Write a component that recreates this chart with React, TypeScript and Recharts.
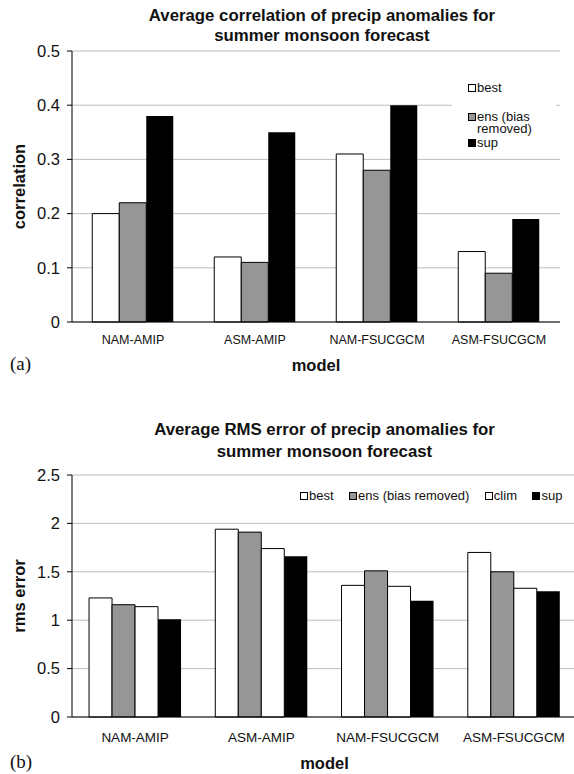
import React from "react";
import { BarChart, Bar, XAxis, YAxis, CartesianGrid, Legend } from "recharts";

// models on the x axis, same for both panels
const models = ["NAM-AMIP", "ASM-AMIP", "NAM-FSUCGCM", "ASM-FSUCGCM"];

// (a) correlation
const corrBest = [0.2, 0.12, 0.31, 0.13];
const corrEns = [0.22, 0.11, 0.28, 0.09];
const corrSup = [0.38, 0.35, 0.4, 0.19];
const corrTicks = [0, 0.1, 0.2, 0.3, 0.4, 0.5];

// (b) rms error
const rmsBest = [1.23, 1.94, 1.36, 1.7];
const rmsEns = [1.16, 1.91, 1.51, 1.5];
const rmsClim = [1.14, 1.74, 1.35, 1.33];
const rmsSup = [1.01, 1.66, 1.2, 1.3];
const rmsTicks = [0, 0.5, 1, 1.5, 2, 2.5];

// category boundaries (excel-style tick marks between groups)
const boundaryTicks = [0, 1, 2, 3, 4];

// legend order = series order
const seriesOrder = ["best", "ens", "clim", "sup"];

const corrData = models.map((m, i) => ({ model: m, best: corrBest[i], ens: corrEns[i], sup: corrSup[i] }));
const rmsData = models.map((m, i) => ({
  model: m,
  best: rmsBest[i],
  ens: rmsEns[i],
  clim: rmsClim[i],
  sup: rmsSup[i],
}));

const sans = '"Liberation Sans", Arial, sans-serif';
const ink = "#111";
const grey = "#969696";

function yTitle(text: string) {
  return (props: any) => {
    const vb = props.viewBox;
    const cx = vb.x + 19;
    const cy = vb.y + vb.height / 2;
    return (
      <text
        x={cx}
        y={cy}
        transform={`rotate(-90 ${cx} ${cy})`}
        textAnchor="middle"
        dominantBaseline="central"
        fontSize={16.5}
        fontWeight="bold"
        fontFamily={sans}
        fill={ink}
      >
        {text}
      </text>
    );
  };
}

function xTitle(text: string, dy: number) {
  return (props: any) => {
    const vb = props.viewBox;
    return (
      <text
        x={vb.x + vb.width / 2}
        y={vb.y + dy}
        textAnchor="middle"
        dominantBaseline="central"
        fontSize={16.5}
        fontWeight="bold"
        fontFamily={sans}
        fill={ink}
      >
        {text}
      </text>
    );
  };
}

function Swatch({ color }: { color: string }) {
  return (
    <span
      style={{
        display: "inline-block",
        width: 6,
        height: 6,
        border: "1px solid #000",
        background: color,
        flex: "none",
      }}
    />
  );
}

function ordered(payload: any[]) {
  return [...(payload || [])].sort(
    (a, b) => seriesOrder.indexOf(a.dataKey) - seriesOrder.indexOf(b.dataKey)
  );
}

// stacked legend of panel (a)
function stackLegend(props: any) {
  const items = ordered(props.payload);
  return (
    <div style={{ background: "#fff", width: 104, height: 96, paddingTop: 22, boxSizing: "border-box", fontFamily: sans, fontSize: 13, lineHeight: "12px", color: ink }}>
      {items.map((it: any, i: number) => (
        <div key={i} style={{ display: "flex", alignItems: "flex-start", marginLeft: 16, marginBottom: i === 0 ? 16.5 : 0, marginTop: i === 2 ? 2 : 0 }}>
          <span style={{ marginTop: 2, marginRight: 1, display: "flex" }}>
            <Swatch color={it.color} />
          </span>
          <span style={{ width: 62 }}>{it.value}</span>
        </div>
      ))}
    </div>
  );
}

// single-row legend of panel (b)
function rowLegend(props: any) {
  const items = ordered(props.payload);
  return (
    <div style={{ display: "flex", alignItems: "center", fontFamily: sans, fontSize: 13, lineHeight: "14px", color: ink, whiteSpace: "nowrap" }}>
      {items.map((it: any, i: number) => (
        <div key={i} style={{ display: "flex", alignItems: "center", marginRight: 15.5 }}>
          <Swatch color={it.color} />
          <span style={{ marginLeft: 1 }}>{it.value}</span>
        </div>
      ))}
    </div>
  );
}

export default function App() {
  return (
    <div style={{ position: "absolute", left: 0, top: 0, width: 574, height: 774, overflow: "hidden", background: "#fff" }}>
      <div style={{ position: "absolute", left: 72, top: 5.5, width: 500, textAlign: "center", fontFamily: sans, fontWeight: "bold", fontSize: 16.8, lineHeight: "20.5px", color: ink }}>
        Average correlation of precip anomalies for
        <br />
        summer monsoon forecast
      </div>
      <div style={{ position: "absolute", left: 10, top: 353, fontFamily: '"Liberation Serif", serif', fontSize: 19, color: ink }}>(a)</div>

      <div style={{ position: "absolute", left: 0, top: 0 }}>
        <BarChart
          width={574}
          height={385}
          data={corrData}
          margin={{ top: 51, right: 14, left: 0, bottom: 13 }}
          barCategoryGap="16.6%"
          barGap={0}
          style={{ fontFamily: sans }}
        >
          <CartesianGrid xAxisId="cat" yAxisId="l" vertical={false} stroke="#bdbdbd" />
          <XAxis
            xAxisId="edge"
            type="number"
            domain={[0, 4]}
            ticks={boundaryTicks}
            height={0}
            tickFormatter={() => ""}
            axisLine={false}
            tickLine={{ stroke: "#000" }}
            tickSize={5}
          />
          <XAxis
            xAxisId="cat"
            dataKey="model"
            height={50}
            axisLine={{ stroke: "#000" }}
            tickLine={false}
            tickSize={5}
            tickMargin={8}
            tick={{ fontSize: 12.5, fill: ink }}
            interval={0}
            label={{ content: xTitle("model", 43) }}
          />
          <YAxis
            yAxisId="l"
            width={72}
            domain={[0, 0.5]}
            ticks={corrTicks}
            axisLine={{ stroke: "#000" }}
            tickLine={{ stroke: "#000" }}
            tickSize={5}
            tickMargin={7}
            tick={{ fontSize: 16.5, fill: ink }}
            label={{ content: yTitle("correlation") }}
          />
          <YAxis yAxisId="r" orientation="right" width={0} domain={[0, 0.5]} tick={false} tickLine={false} axisLine={{ stroke: "#999" }} />
          <Legend
            layout="vertical"
            align="center"
            verticalAlign="middle"
            content={stackLegend}
            wrapperStyle={{ left: 452, top: 60, width: 104 }}
          />
          <Bar xAxisId="cat" yAxisId="l" dataKey="best" name="best" fill="#ffffff" stroke="#000" strokeWidth={1} isAnimationActive={false} />
          <Bar xAxisId="cat" yAxisId="l" dataKey="ens" name="ens (bias removed)" fill={grey} stroke="#000" strokeWidth={1} isAnimationActive={false} />
          <Bar xAxisId="cat" yAxisId="l" dataKey="sup" name="sup" fill="#000000" isAnimationActive={false} />
        </BarChart>
      </div>

      <div style={{ position: "absolute", left: 72, top: 419, width: 505, textAlign: "center", fontFamily: sans, fontWeight: "bold", fontSize: 16.8, lineHeight: "22px", color: ink }}>
        Average RMS error of precip anomalies for
        <br />
        summer monsoon forecast
      </div>
      <div style={{ position: "absolute", left: 10, top: 751, fontFamily: '"Liberation Serif", serif', fontSize: 19, color: ink }}>(b)</div>

      <div style={{ position: "absolute", left: 0, top: 390 }}>
        <BarChart
          width={580}
          height={384}
          data={rmsData}
          margin={{ top: 85, right: 3, left: 0, bottom: 5 }}
          barCategoryGap="13.5%"
          barGap={0}
          style={{ fontFamily: sans }}
        >
          <CartesianGrid xAxisId="cat" yAxisId="l" vertical={false} stroke="#bdbdbd" />
          <XAxis
            xAxisId="edge"
            type="number"
            domain={[0, 4]}
            ticks={boundaryTicks}
            height={0}
            tickFormatter={() => ""}
            axisLine={false}
            tickLine={{ stroke: "#000" }}
            tickSize={5}
          />
          <XAxis
            xAxisId="cat"
            dataKey="model"
            height={52}
            axisLine={{ stroke: "#000" }}
            tickLine={false}
            tickSize={5}
            tickMargin={10}
            tick={{ fontSize: 13.5, fill: ink }}
            interval={0}
            label={{ content: xTitle("model", 46) }}
          />
          <YAxis
            yAxisId="l"
            width={72}
            domain={[0, 2.5]}
            ticks={rmsTicks}
            axisLine={{ stroke: "#000" }}
            tickLine={{ stroke: "#000" }}
            tickSize={5}
            tickMargin={7}
            tick={{ fontSize: 16.5, fill: ink }}
            label={{ content: yTitle("rms error") }}
          />
          <Legend
            layout="horizontal"
            align="center"
            verticalAlign="middle"
            content={rowLegend}
            wrapperStyle={{ left: 300, top: 99, width: 280 }}
          />
          <Bar xAxisId="cat" yAxisId="l" dataKey="best" name="best" fill="#ffffff" stroke="#000" strokeWidth={1} isAnimationActive={false} />
          <Bar xAxisId="cat" yAxisId="l" dataKey="ens" name="ens (bias removed)" fill={grey} stroke="#000" strokeWidth={1} isAnimationActive={false} />
          <Bar xAxisId="cat" yAxisId="l" dataKey="clim" name="clim" fill="#ffffff" stroke="#000" strokeWidth={1} isAnimationActive={false} />
          <Bar xAxisId="cat" yAxisId="l" dataKey="sup" name="sup" fill="#000000" isAnimationActive={false} />
        </BarChart>
      </div>
    </div>
  );
}
